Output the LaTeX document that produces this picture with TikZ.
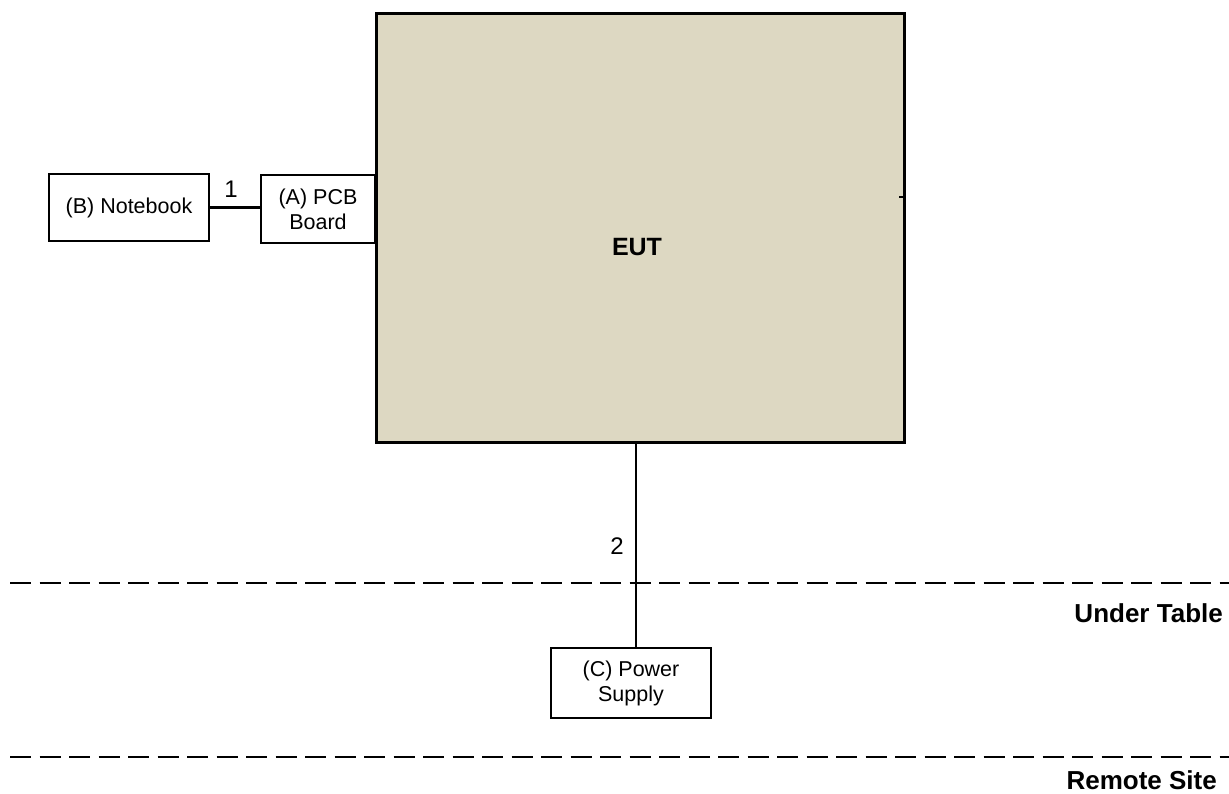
\documentclass[tikz,border=0pt]{standalone}
\usepackage{fontspec}
\setmainfont{Liberation Sans}
\definecolor{eutfill}{RGB}{221,216,194}
\begin{document}
\begin{tikzpicture}[x=1pt,y=-1pt,
  box/.style={draw=black,line width=2.6pt,fill=white,rectangle,inner sep=0pt,align=center,font=\fontsize{21.5}{25}\selectfont},
  conn/.style={line width=2.6pt},
  sep/.style={line width=2.8pt,dash pattern=on 21pt off 8.5pt},
  num/.style={font=\fontsize{24}{28}\selectfont,inner sep=0pt,anchor=base},
  zone/.style={font=\bfseries\fontsize{26}{30}\selectfont,inner sep=0pt,anchor=base east}]
\useasboundingbox (0,0) rectangle (1229,794);
% EUT
\node[draw=black,line width=3pt,fill=eutfill,minimum width=528pt,minimum height=428pt,inner sep=0pt] (eut) at (640,228) {};
\node[font=\bfseries\fontsize{25}{30}\selectfont,inner sep=0pt] (eutlbl) at (637,247) {EUT};
\coordinate (tick) at (899,197);
\draw[line width=2.6pt] (tick) -- (tick -| eut.east);
% boxes
\node[box,minimum width=160pt,minimum height=67pt] (nb) at (129,207.5) {(B) Notebook};
\node[box,minimum width=114pt,minimum height=68pt] (pcb) at (318,209) {(A) PCB\\Board};
\node[box,minimum width=160pt,minimum height=70pt] (ps) at (631,683) {(C) Power\\Supply};
% connectors
\draw[conn] (nb.east) -- (nb.east -| pcb.west);
\node[num] (n1) at (231,198) {1};
\draw[conn] ([xshift=5pt]ps.north) -- ([xshift=5pt]ps.north |- eut.south);
\node[num] (n2) at (617,554) {2};
% separators
\coordinate (s1a) at (10,583); \coordinate (s1b) at (1229,583);
\coordinate (s2a) at (10,757); \coordinate (s2b) at (1229,757);
\draw[sep] (s1a) -- (s1b);
\draw[sep] (s2a) -- (s2b);
\node[zone] (ut) at (1223,622) {Under Table};
\node[zone] (rs) at (1217,789) {Remote Site};
\end{tikzpicture}
\end{document}
